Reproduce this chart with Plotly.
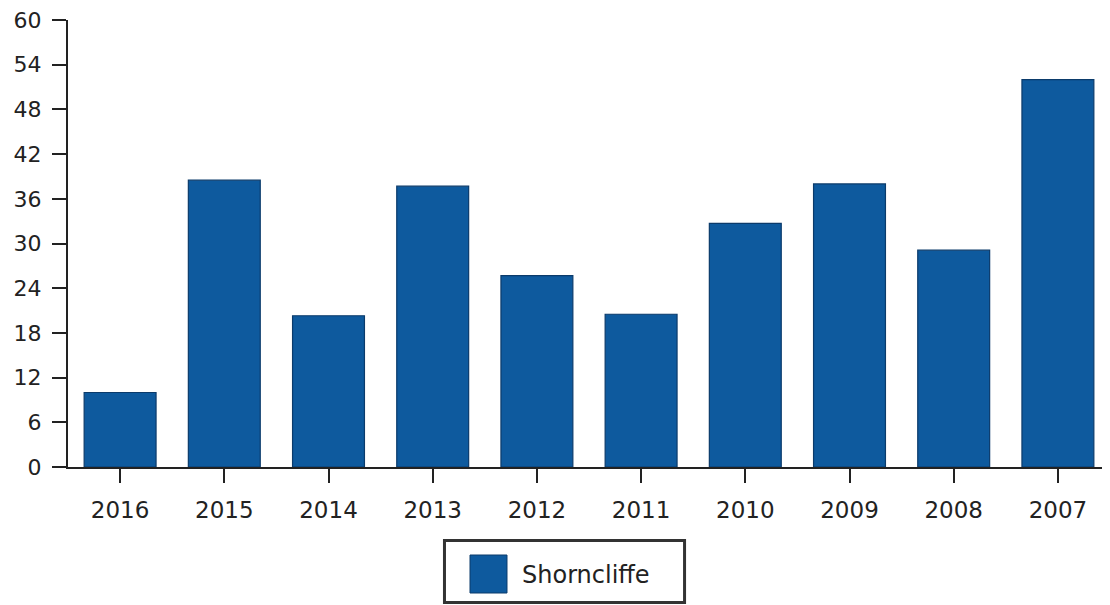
import plotly.graph_objects as go

years = ["2016", "2015", "2014", "2013", "2012", "2011", "2010", "2009", "2008", "2007"]
values = [10.0, 38.5, 20.3, 37.7, 25.7, 20.5, 32.7, 38.0, 29.1, 52.0]
series_name = "Shorncliffe"
y_ticks = [0, 6, 12, 18, 24, 30, 36, 42, 48, 54, 60]

BAR_COLOR = "#0e5a9e"
BAR_EDGE = "#0b3b6b"
TEXT = "#222222"
FONT = "DejaVu Sans, Open Sans, sans-serif"

fig = go.Figure()
fig.add_trace(go.Bar(
    x=years, y=values, name=series_name,
    marker=dict(color=BAR_COLOR, line=dict(color=BAR_EDGE, width=1.2)),
    showlegend=False,
))

# Legend drawn as a boxed key below the plot (large swatch like the original)
fig.add_shape(type="rect", xref="paper", yref="paper",
              x0=0.3613, x1=0.5917, y0=-0.3031, y1=-0.1644,
              line=dict(color="#333333", width=3), fillcolor="white", layer="above")
fig.add_shape(type="rect", xref="paper", yref="paper",
              x0=0.3858, x1=0.4213, y0=-0.2819, y1=-0.1969,
              line=dict(color=BAR_EDGE, width=1), fillcolor=BAR_COLOR, layer="above")
fig.add_annotation(xref="paper", yref="paper", x=0.4338, y=-0.2416,
                   text=series_name, showarrow=False, xanchor="left", yanchor="middle",
                   font=dict(family=FONT, size=24, color=TEXT))

fig.update_layout(
    width=1102, height=597,
    margin=dict(l=60, r=0, t=12, b=138, autoexpand=False),
    paper_bgcolor="white", plot_bgcolor="white",
    bargap=0.31,
    font=dict(family=FONT, color=TEXT),
    showlegend=False,
    xaxis=dict(
        type="category",
        showline=True, linecolor=TEXT, linewidth=2,
        ticks="outside", ticklen=14, tickwidth=2, tickcolor=TEXT,
        tickfont=dict(size=23),
        ticklabelstandoff=7,
        ticklabeloverflow="allow",
        showgrid=False, zeroline=False,
        range=[-0.5, 9.5],
        automargin=False,
    ),
    yaxis=dict(
        range=[0, 60],
        tickvals=y_ticks,
        ticktext=[str(v) for v in y_ticks],
        showline=True, linecolor=TEXT, linewidth=2,
        ticks="outside", ticklen=14, tickwidth=2, tickcolor=TEXT,
        tickfont=dict(size=22),
        ticklabelstandoff=6,
        ticklabeloverflow="allow",
        showgrid=False, zeroline=False,
        automargin=False,
    ),
)

fig.write_html("out.html")
